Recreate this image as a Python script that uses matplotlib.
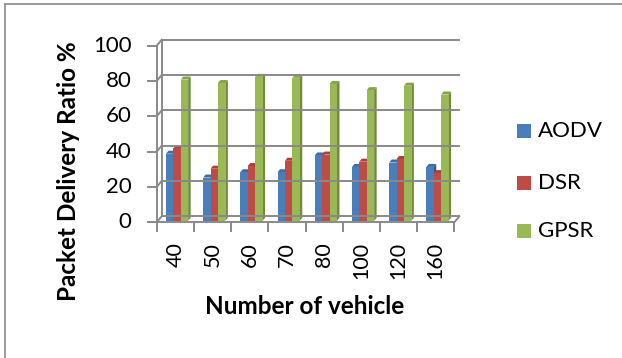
import matplotlib
matplotlib.use("Agg")
import matplotlib.pyplot as plt
from matplotlib.patches import Polygon, Rectangle
from matplotlib.lines import Line2D

# values
vehicles = ["40", "50", "60", "70", "80", "100", "120", "160"]
aodv = [38, 24.5, 27.5, 27.5, 37, 30.5, 33, 30.5]
dsr = [41, 29.5, 31, 34, 37.5, 33.5, 35, 27]
gpsr = [80, 78, 81.5, 81, 77.5, 74, 76.5, 71.5]
series_names = ["AODV", "DSR", "GPSR"]
yticks = [0, 20, 40, 60, 80, 100]

front_cols = ["#4A7EBB", "#BE4B48", "#98B954"]
top_cols = ["#3E6CA6", "#A8403D", "#84A447"]
side_cols = ["#335A8A", "#8C3532", "#6E8A3A"]
grid_col = "#898989"

W, H = 622, 358
fig = plt.figure(figsize=(W / 100, H / 100), dpi=100)

# front plane of the 3d box, in pixels
x0_px, x1_px, y0_px, y1_px = 156.7, 454.3, 222.3, 45.7
ax = fig.add_axes([x0_px / W, 1 - y0_px / H, (x1_px - x0_px) / W, (y0_px - y1_px) / H])
ncat = len(vehicles)
ax.set_xlim(0, ncat)
ax.set_ylim(0, 100)
ax.axis("off")

px_x = (x1_px - x0_px) / ncat
px_y = (y0_px - y1_px) / 100
DX = 5 / px_x      # depth shift of back wall
DY = 6 / px_y


def line(xs, ys, **kw):
    ax.add_line(Line2D(xs, ys, color=grid_col, lw=1.4, clip_on=False, **kw))


# back wall gridlines + side wall diagonals
for v in yticks:
    line([DX, ncat + DX], [v + DY, v + DY])
    line([0, DX], [v, v + DY])
    line([-9 / px_x, 0], [v, v])
line([DX, DX], [DY, 100 + DY])
line([0, 0], [0, 100])
# floor
line([0, ncat], [0, 0])
line([ncat, ncat + DX], [0, DY])
for i in range(ncat + 1):
    line([i, i], [0, -9 / px_y])

# bars
bw = 7.4 / px_x
start = 8.0 / px_x
d0, d1 = 0.25, 0.75
data = [aodv, dsr, gpsr]
for i in range(ncat):
    for s in range(3):
        v = data[s][i]
        xl = i + start + s * bw
        xr = xl + bw
        fx, fy = d0 * DX, d0 * DY
        bx, by = d1 * DX, d1 * DY
        side = [(xr + fx, fy), (xr + bx, by), (xr + bx, v + by), (xr + fx, v + fy)]
        top = [(xl + fx, v + fy), (xr + fx, v + fy), (xr + bx, v + by), (xl + bx, v + by)]
        front = [(xl + fx, fy), (xr + fx, fy), (xr + fx, v + fy), (xl + fx, v + fy)]
        ax.add_patch(Polygon(side, closed=True, fc=side_cols[s], ec="none", clip_on=False))
        ax.add_patch(Polygon(top, closed=True, fc=top_cols[s], ec="none", clip_on=False))
        ax.add_patch(Polygon(front, closed=True, fc=front_cols[s], ec="none", clip_on=False))

font = "Lato"
# tick labels
for v in yticks:
    ax.text(-25 / px_x, v, str(v), ha="right", va="center", fontsize=16, family=font)
for i, lab in enumerate(vehicles):
    ax.text(i + 0.5, -20 / px_y, lab, ha="center", va="top", rotation=90,
            fontsize=15.5, family=font)

fig.text(68 / W, 1 - 171.5 / H, "Packet Delivery Ratio %", rotation=90, ha="center",
         va="center", fontsize=17.5, fontweight="bold", family=font)
fig.text(305 / W, 1 - 307 / H, "Number of vehicle", ha="center", va="center",
         fontsize=17.5, fontweight="bold", family=font)

# legend
for k, name in enumerate(series_names):
    yc = [131, 183, 231][k]
    fig.patches.append(Rectangle((517 / W, 1 - (yc + 7) / H), 14 / W, 14 / H,
                                 transform=fig.transFigure, fc=front_cols[k], ec="none"))
    fig.text(538 / W, 1 - yc / H, name, ha="left", va="center", fontsize=16, family=font)

# chart area border (only top and left visible)
fig.add_artist(Line2D([5 / W, 1], [1 - 4 / H, 1 - 4 / H], color="#8a8a8a", lw=1.2))
fig.add_artist(Line2D([5 / W, 5 / W], [0, 1 - 4 / H], color="#8a8a8a", lw=1.2))

fig.savefig("out.png", dpi=100)
